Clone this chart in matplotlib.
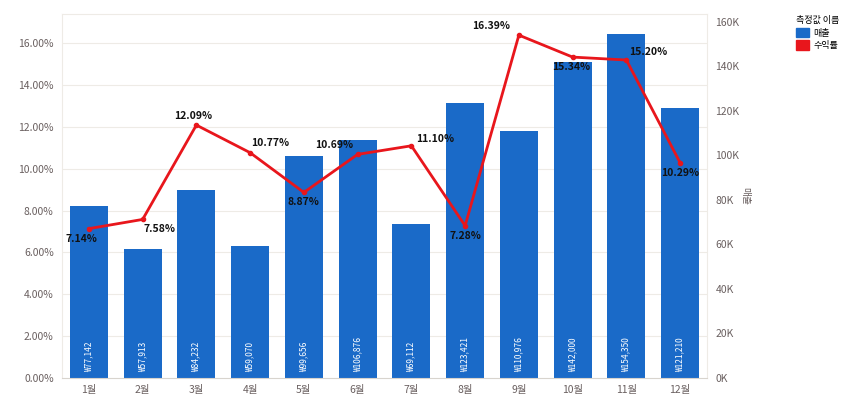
import matplotlib
matplotlib.use("Agg")
import matplotlib.pyplot as plt
from matplotlib.patches import Patch

plt.rcParams['font.family'] = ['Noto Sans CJK KR', 'DejaVu Sans']

months = ['1월', '2월', '3월', '4월', '5월', '6월', '7월', '8월', '9월', '10월', '11월', '12월']
sales = [77142, 57913, 84232, 59070, 99656, 106876, 69112, 123421, 110976, 142000, 154350, 121210]
profit_rate = [7.14, 7.58, 12.09, 10.77, 8.87, 10.69, 11.10, 7.28, 16.39, 15.34, 15.20, 10.29]
left_ticks = [0, 2, 4, 6, 8, 10, 12, 14, 16]
right_ticks = [0, 20000, 40000, 60000, 80000, 100000, 120000, 140000, 160000]

# label offsets (pixels) for rate labels
label_offsets = [(-7, -10), (17, -10), (-3, 9), (20, 10), (0, -10), (-23, 9),
                 (24, 7), (0, -10), (-28, 9), (-1, -10), (22, 8), (0, -10)]

bar_color = '#1a6ac8'
line_color = '#e8161c'
tick_color = '#6a6060'

fig = plt.figure(figsize=(8.68, 3.99), dpi=100)
ax = fig.add_axes([62/868, 1-378/399, (707-62)/868, (378-14)/399])
ax2 = ax.twinx()

x = list(range(len(months)))

# bars on right axis
ax2.bar(x, sales, width=0.71, color=bar_color, zorder=2)
for xi, v in zip(x, sales):
    ax2.text(xi, 2500, '₩{:,}'.format(v), rotation=90, ha='center', va='bottom',
             color='white', fontsize=6, zorder=3)
ax2.set_ylim(0, 163500)
ax2.set_yticks(right_ticks)
ax2.set_yticklabels([f'{int(t/1000)}K' for t in right_ticks], fontsize=7.5, color=tick_color)
ax2.tick_params(axis='y', length=0, pad=6)
ax2.set_ylabel('매출', fontsize=7, color=tick_color, rotation=270, labelpad=8)

# line on left axis, drawn above bars
ax.set_zorder(ax2.get_zorder() + 1)
ax.patch.set_visible(False)
ax.plot(x, profit_rate, color=line_color, lw=2.0, marker='o', ms=3, zorder=4)
for xi, v, (dx, dy) in zip(x, profit_rate, label_offsets):
    ax.annotate(f'{v:.2f}%', (xi, v), xytext=(dx, dy), textcoords='offset pixels',
                ha='center', va='center', fontsize=7.5, fontweight='bold', color='#111111',
                zorder=5)
ax.set_ylim(0, 17.4)
ax.set_yticks(left_ticks)
ax.set_yticklabels([f'{t:.2f}%' for t in left_ticks], fontsize=7.5, color=tick_color)
ax.tick_params(axis='y', length=0, pad=6)
ax.set_xlim(-0.5, 11.5)
ax.set_xticks(x)
ax.set_xticklabels(months, fontsize=7.5, color=tick_color)
ax.tick_params(axis='x', length=0, pad=5)

# gridlines following left axis, drawn behind bars
for t in left_ticks[1:]:
    ax2.axhline(t / 17.4 * 163500, color='#eeebe6', lw=0.8, zorder=0)

for a in (ax, ax2):
    for s in a.spines.values():
        s.set_visible(False)
ax2.spines['bottom'].set_visible(True)
ax2.spines['bottom'].set_color('#d8d4ce')
ax2.spines['left'].set_visible(True)
ax2.spines['left'].set_color('#eeebe6')
ax2.spines['right'].set_visible(True)
ax2.spines['right'].set_color('#eeebe6')
ax2.spines['top'].set_visible(True)
ax2.spines['top'].set_color('#eeebe6')

# legend
handles = [Patch(color=bar_color, label='매출'), Patch(color=line_color, label='수익률')]
fig.legend(handles=handles, title='측정값 이름', loc='upper left',
           bbox_to_anchor=(788/868, 1-8/399), frameon=False, fontsize=6.5,
           title_fontsize=6.5, handlelength=1.4, handleheight=1.2,
           handletextpad=0.5, labelspacing=0.3, alignment='left')

fig.savefig('out.png', dpi=100, facecolor='white')
